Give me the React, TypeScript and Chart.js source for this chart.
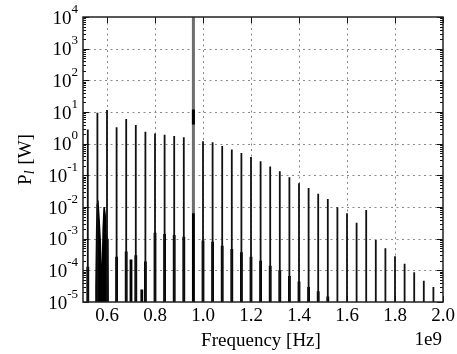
import { useEffect, useRef } from "react";
import { Chart, registerables } from "chart.js";

Chart.register(...registerables);

// ---------- data ----------
const harmonicFreqHz = [
  0.52e9, 0.56e9, 0.6e9, 0.64e9, 0.68e9, 0.72e9, 0.76e9, 0.8e9, 0.84e9, 0.88e9,
  0.92e9, 0.96e9, 1.0e9, 1.04e9, 1.08e9, 1.12e9, 1.16e9, 1.2e9, 1.24e9, 1.28e9,
  1.32e9, 1.36e9, 1.4e9, 1.44e9, 1.48e9, 1.52e9, 1.56e9, 1.6e9, 1.64e9, 1.68e9,
  1.72e9, 1.76e9, 1.8e9, 1.84e9, 1.88e9, 1.92e9, 1.96e9,
];
// peak power of each harmonic line (W); the fundamental is drawn separately
const harmonicPeakW = [
  2.8, 9.5, 11.5, 3.3, 6.0, 3.9, 2.4, 2.1, 1.9, 1.75,
  1.6, null, 1.2, 1.1, 0.85, 0.65, 0.51, 0.38, 0.28, 0.19,
  0.134, 0.087, 0.056, 0.04, 0.026, 0.018, 0.0098, 0.0063, 0.0032, 0.008,
  0.0009, 0.0005, 0.00028, 0.00016, 0.000087, 0.000047, 0.00003,
];
// level of the broad (dense) lower part of each line (W)
const harmonicBaseW = [
  1.3e-4, null, null, 2.7e-4, 3.9e-4, 3e-4, 1.9e-4, 1.55e-3, 1.4e-3, 1.3e-3,
  1.15e-3, 6.3e-3, 8.7e-4, 8e-4, 6e-4, 4.7e-4, 3.7e-4, 2.7e-4, 2e-4, 1.4e-4,
  1e-4, 6.6e-5, 4.4e-5, 3e-5, 2.2e-5, 1.5e-5, null, null, null, null,
  null, null, null, null, null, null, null,
];
const fundamentalFreqHz = 0.96e9;
const fundamentalPeakW = 1e5;
const fundamentalCoreW = [4, 12];
const extraLineFreqHz = [0.7e9, 0.745e9];
const extraLinePowerW = [2.2e-4, 2.5e-5];
const clusterFreqHz = [
  0.5525e9, 0.554e9, 0.557e9, 0.5595e9, 0.562e9, 0.567e9, 0.572e9, 0.576e9,
  0.58e9, 0.584e9, 0.588e9, 0.592e9, 0.596e9, 0.6e9, 0.604e9, 0.606e9,
];
const clusterPowerW = [
  1e-8, 3e-5, 2e-3, 1.2e-2, 1.6e-2, 4e-3, 8e-4, 7e-5,
  7e-5, 2e-3, 1e-2, 6e-3, 1.5e-3, 1e-3, 8e-4, 1e-8,
];
const xTickHz = [0.6e9, 0.8e9, 1.0e9, 1.2e9, 1.4e9, 1.6e9, 1.8e9, 2.0e9];
const xTickLabels = ["0.6", "0.8", "1.0", "1.2", "1.4", "1.6", "1.8", "2.0"];
const yTickExponents = [-5, -4, -3, -2, -1, 0, 1, 2, 3, 4];
const xMinHz = 0.5e9;
const xMaxHz = 2.0e9;
const yMinW = 1e-5;
const yMaxW = 1e4;
const xTitle = "Frequency [Hz]";
const xOffsetText = "1e9";
const yTitleMain = "P";
const yTitleSub = "l";
const yTitleUnit = " [W]";

const FLOOR = 1e-9;
const SERIF = "'Liberation Serif', 'Times New Roman', serif";

function spikes(freqs: number[], values: (number | null)[]) {
  const out: { x: number; y: number | null }[] = [];
  freqs.forEach((f, i) => {
    const v = values[i];
    if (v == null) return;
    out.push({ x: f, y: FLOOR }, { x: f, y: v }, { x: f, y: null });
  });
  return out;
}

const axesPlugin = {
  id: "axesDecor",
  beforeDatasetsDraw(chart: any) {
    const { ctx, chartArea: a, scales } = chart;
    const xs = scales.x;
    const ys = scales.y;
    ctx.save();
    ctx.strokeStyle = "#8a8a8a";
    ctx.lineWidth = 1;
    ctx.setLineDash([2, 3.5]);
    xTickHz.forEach((v) => {
      if (v <= xMinHz || v >= xMaxHz) return;
      const x = Math.round(xs.getPixelForValue(v)) + 0.5;
      ctx.beginPath();
      ctx.moveTo(x, a.top);
      ctx.lineTo(x, a.bottom);
      ctx.stroke();
    });
    yTickExponents.forEach((e) => {
      const v = Math.pow(10, e);
      if (v <= yMinW || v >= yMaxW) return;
      const y = Math.round(ys.getPixelForValue(v)) + 0.5;
      ctx.beginPath();
      ctx.moveTo(a.left, y);
      ctx.lineTo(a.right, y);
      ctx.stroke();
    });
    ctx.restore();
  },
  afterDatasetsDraw(chart: any) {
    const { ctx, chartArea: a, scales } = chart;
    const xs = scales.x;
    const ys = scales.y;
    ctx.save();
    ctx.setLineDash([]);
    ctx.strokeStyle = "#111";
    ctx.lineWidth = 1;
    // minor y ticks
    for (let e = -5; e < 4; e++) {
      for (let m = 2; m <= 9; m++) {
        const y = Math.round(ys.getPixelForValue(m * Math.pow(10, e))) + 0.5;
        ctx.beginPath();
        ctx.moveTo(a.left, y);
        ctx.lineTo(a.left + 3, y);
        ctx.moveTo(a.right, y);
        ctx.lineTo(a.right - 3, y);
        ctx.stroke();
      }
    }
    // major y ticks
    yTickExponents.forEach((e) => {
      const y = Math.round(ys.getPixelForValue(Math.pow(10, e))) + 0.5;
      ctx.beginPath();
      ctx.moveTo(a.left, y);
      ctx.lineTo(a.left + 6, y);
      ctx.moveTo(a.right, y);
      ctx.lineTo(a.right - 6, y);
      ctx.stroke();
    });
    // major x ticks
    xTickHz.forEach((v) => {
      const x = Math.round(xs.getPixelForValue(v)) + 0.5;
      ctx.beginPath();
      ctx.moveTo(x, a.top);
      ctx.lineTo(x, a.top + 6);
      ctx.moveTo(x, a.bottom);
      ctx.lineTo(x, a.bottom - 6);
      ctx.stroke();
    });
    // frame
    ctx.lineWidth = 1.5;
    ctx.strokeStyle = "#222";
    ctx.strokeRect(a.left, a.top, a.right - a.left, a.bottom - a.top);

    // text
    ctx.fillStyle = "#000";
    const rightEdge = a.left - 5;
    yTickExponents.forEach((e) => {
      const y = ys.getPixelForValue(Math.pow(10, e));
      const expText = e < 0 ? "-" + Math.abs(e) : String(e);
      ctx.font = `13px ${SERIF}`;
      const we = ctx.measureText(expText).width;
      ctx.textAlign = "left";
      ctx.textBaseline = "alphabetic";
      ctx.fillText(expText, rightEdge - we, y - 4.5);
      ctx.font = `19px ${SERIF}`;
      const w10 = ctx.measureText("10").width;
      ctx.fillText("10", rightEdge - we - w10, y + 6.5);
    });
    ctx.font = `19px ${SERIF}`;
    ctx.textAlign = "center";
    ctx.textBaseline = "alphabetic";
    xTickHz.forEach((v, i) => {
      const x = xs.getPixelForValue(v);
      ctx.fillText(xTickLabels[i], x, a.bottom + 19);
    });
    ctx.textAlign = "right";
    ctx.fillText(xOffsetText, a.right - 1, a.bottom + 43);
    ctx.textAlign = "center";
    ctx.fillText(xTitle, (a.left + a.right) / 2 - 2, a.bottom + 43.5);
    // y title (rotated)
    ctx.save();
    ctx.translate(31, (a.top + a.bottom) / 2);
    ctx.rotate(-Math.PI / 2);
    ctx.textAlign = "left";
    ctx.font = `19px ${SERIF}`;
    const wP = ctx.measureText(yTitleMain).width;
    ctx.font = `italic 14px ${SERIF}`;
    const wl = ctx.measureText(yTitleSub).width;
    ctx.font = `19px ${SERIF}`;
    const wU = ctx.measureText(yTitleUnit).width;
    const total = wP + wl + 1 + wU;
    let cx = -total / 2;
    ctx.fillText(yTitleMain, cx, 0);
    cx += wP;
    ctx.font = `italic 14px ${SERIF}`;
    ctx.fillText(yTitleSub, cx, 3);
    cx += wl + 1;
    ctx.font = `19px ${SERIF}`;
    ctx.fillText(yTitleUnit, cx, 0);
    ctx.restore();

    ctx.restore();
  },
};

export default function App() {
  const canvasRef = useRef<HTMLCanvasElement | null>(null);

  useEffect(() => {
    const canvas = canvasRef.current;
    if (!canvas) return;
    const common = {
      pointRadius: 0,
      pointHoverRadius: 0,
      spanGaps: false,
      tension: 0,
      clip: 0,
    };
    const chart = new Chart(canvas, {
      type: "line",
      data: {
        datasets: [
          {
            ...common,
            label: "fundamental core",
            data: [
              { x: fundamentalFreqHz, y: fundamentalCoreW[0] },
              { x: fundamentalFreqHz, y: fundamentalCoreW[1] },
            ],
            borderColor: "#000",
            borderWidth: 3,
          },
          {
            ...common,
            label: "harmonic peaks",
            data: spikes(harmonicFreqHz, harmonicPeakW),
            borderColor: "#111",
            borderWidth: 1.8,
          },
          {
            ...common,
            label: "harmonic base",
            data: spikes(harmonicFreqHz, harmonicBaseW),
            borderColor: "#000",
            borderWidth: 2.8,
          },
          {
            ...common,
            label: "extra lines",
            data: spikes(extraLineFreqHz, extraLinePowerW),
            borderColor: "#000",
            borderWidth: 2.8,
          },
          {
            ...common,
            label: "low band cluster",
            data: clusterFreqHz.map((f, i) => ({ x: f, y: clusterPowerW[i] })),
            borderColor: "#000",
            borderWidth: 1.5,
            backgroundColor: "#000",
            fill: "start",
          },
          {
            ...common,
            label: "fundamental",
            data: spikes([fundamentalFreqHz], [fundamentalPeakW]),
            borderColor: "#6e6e6e",
            borderWidth: 3,
          },
        ],
      },
      options: {
        responsive: false,
        animation: false,
        devicePixelRatio: 1,
        events: [],
        layout: { padding: { left: 83, top: 17, right: 14, bottom: 52 } },
        plugins: {
          legend: { display: false },
          tooltip: { enabled: false },
          title: { display: false },
        },
        scales: {
          x: { type: "linear", min: xMinHz, max: xMaxHz, display: false },
          y: { type: "logarithmic", min: yMinW, max: yMaxW, display: false },
        },
      },
      plugins: [axesPlugin],
    } as any);
    return () => chart.destroy();
  }, []);

  return (
    <div style={{ position: "fixed", left: 0, top: 0, width: 457, height: 354, background: "#fff" }}>
      <canvas ref={canvasRef} width={457} height={354} style={{ display: "block" }} />
    </div>
  );
}
